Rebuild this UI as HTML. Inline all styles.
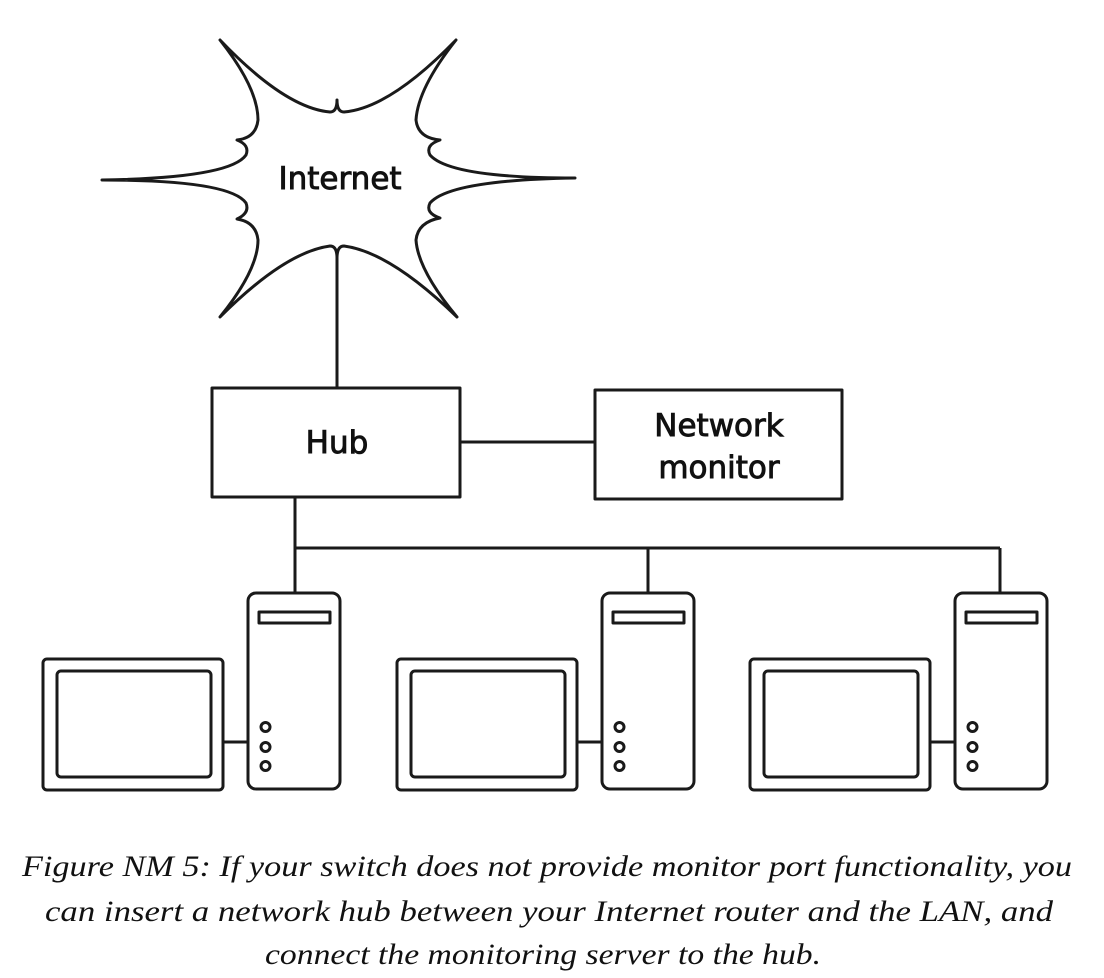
<!DOCTYPE html>
<html><head><meta charset="utf-8"><style>
html,body{margin:0;padding:0;background:#fff;}
svg{display:block;}
</style></head><body>
<svg width="1104" height="978" viewBox="0 0 1104 978" xmlns="http://www.w3.org/2000/svg">
<g fill="none" stroke="#1a1a1a" stroke-width="3" stroke-linejoin="round">
<path d="M220,40 Q285,108 330,112 Q337,112 337,100 Q337,112 344,112 Q390,108 456,40
 Q418,88 416,120 Q418,138 440,140 Q425,145 430,155 Q450,178 575,178
 Q450,180 430,203 Q425,213 440,218 Q418,222 416,240 Q418,270 457,317
 Q390,252 344,246 Q337,246 337,258 Q337,246 330,246 Q285,252 220,317
 Q258,270 258,240 Q256,222 237,219 Q250,213 246,203 Q230,180 102,180
 Q230,178 246,155 Q250,145 237,140 Q256,138 258,120 Q258,88 220,40 Z" fill="#fff"/>
<line x1="337" y1="250" x2="337" y2="388"/>
<rect x="212" y="388" width="248" height="109"/>
<rect x="595" y="390" width="247" height="109"/>
<line x1="460" y1="442" x2="595" y2="442"/>
<polyline points="295,497 295,548 1000,548"/>
<line x1="295" y1="548" x2="295" y2="593"/>
<line x1="648" y1="548" x2="648" y2="593"/>
<line x1="1000" y1="548" x2="1000" y2="593"/>
<g id="pc">
<rect x="43" y="659" width="180" height="131" rx="4"/>
<rect x="57" y="671" width="154" height="106" rx="4"/>
<rect x="248" y="593" width="92" height="196" rx="8"/>
<rect x="259" y="612" width="71" height="11"/>
<line x1="223" y1="742" x2="248" y2="742"/>
<circle cx="265.5" cy="727" r="4.5"/>
<circle cx="265.5" cy="747" r="4.5"/>
<circle cx="265.5" cy="766" r="4.5"/>
</g>
<use href="#pc" x="354"/>
<use href="#pc" x="707"/>
</g>
<g font-family="'DejaVu Sans','Liberation Sans',sans-serif" font-size="31" fill="#111" stroke="#111" stroke-width="0.9" text-anchor="middle">
<text x="340" y="189">Internet</text>
<text x="337" y="453">Hub</text>
<text x="719" y="436">Network</text>
<text x="719" y="478">monitor</text>
</g>
<g font-family="'Liberation Serif',serif" font-style="italic" font-size="30" fill="#111">
<text x="22" y="876" textLength="1050" lengthAdjust="spacingAndGlyphs">Figure NM 5: If your switch does not provide monitor port functionality, you</text>
<text x="45" y="921" textLength="1008" lengthAdjust="spacingAndGlyphs">can insert a network hub between your Internet router and the LAN, and</text>
<text x="265" y="964" textLength="556" lengthAdjust="spacingAndGlyphs">connect the monitoring server to the hub.</text>
</g>
</svg>
</body></html>
